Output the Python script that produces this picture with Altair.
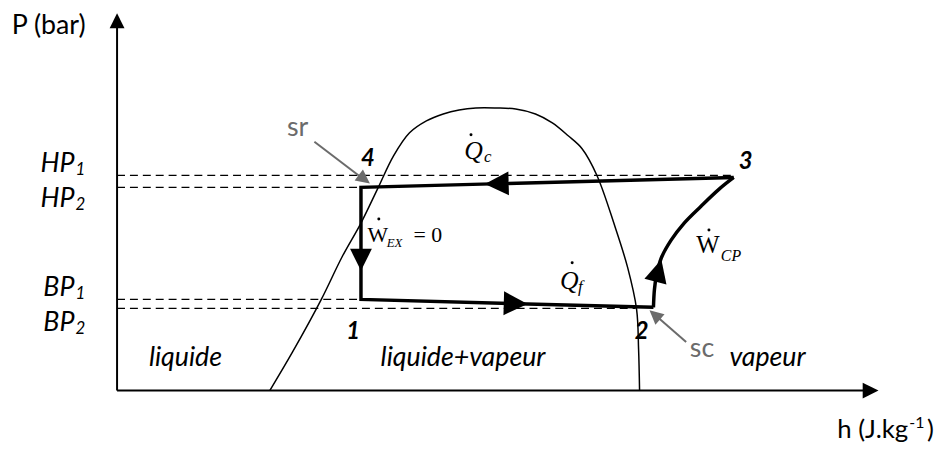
import altair as alt
import pandas as pd

# ---------------- data (enthalpy h and pressure P in arbitrary units, 0-100) ----------------
# saturation dome (liquid line -> critical point -> vapour line)
dome_h = [20.03, 23.02, 26.79, 29.52, 31.99, 34.20, 36.28, 38.36, 40.57, 42.78, 44.86, 47.07, 49.67,
          52.28, 54.88, 57.09, 59.17, 60.99, 62.94, 65.28, 66.97, 68.14, 68.40, 68.53]
dome_P = [0.0, 10.34, 24.40, 35.81, 44.83, 54.11, 62.86, 68.97, 72.15, 74.01, 75.07, 75.60, 75.60,
          75.33, 74.01, 71.62, 68.17, 64.72, 57.56, 44.03, 32.89, 21.75, 11.14, 0.0]

# cycle: condenser (3->4), expansion (4->1), evaporator (1->2)
cycle_h = [80.88, 31.99, 31.99, 70.35]
cycle_P = [57.03, 54.38, 24.40, 22.28]

# compression 2 -> 3
comp_h = [70.35, 70.48, 70.74, 71.39, 72.69, 74.38, 76.59, 78.93, 80.88]
comp_P = [22.28, 27.06, 30.77, 35.54, 40.32, 44.83, 49.34, 53.85, 57.03]

# pressure levels (dashed)
lvl_P = [57.56, 54.38, 24.40, 22.02]
lvl_end = [80.88, 31.99, 31.99, 68.00]
lvl_main = ["HP", "HP", "BP", "BP"]
lvl_main_P = [58.36, 49.07, 25.20, 15.92]
lvl_sub = ["1", "2", "1", "2"]
lvl_sub_P = [57.56, 48.28, 24.40, 15.12]

# axes
axis_h0 = [0.0, 0.0]
axis_h1 = [98.05, 0.0]
axis_P0 = [0.0, 0.0]
axis_P1 = [0.0, 97.61]

# grey pointers (sr, sc)
ptr_h0 = [25.88, 74.64]
ptr_P0 = [66.58, 13.00]
ptr_h1 = [32.38, 70.61]
ptr_P1 = [56.50, 20.16]

# arrow heads
arrow_h = [49.80, 31.99, 52.28, 71.00, 98.83, 0.0, 32.43, 70.52]
arrow_P = [55.35, 35.01, 23.28, 32.10, 0.0, 98.94, 56.55, 20.27]
arrow_ang = [178.5, 90, 1.6, 285, 0, 270, 36.9, 220.9]
arrow_len = [24, 22, 24, 23, 16, 15, 14, 14]
arrow_col = ["#000000"] * 6 + ["#6b6b6b"] * 2

# labels
region_txt = ["liquide", "liquide+vapeur", "vapeur"]
region_h = [8.97, 45.38, 85.31]
region_P = [6.63, 6.63, 6.63]

pt_txt = ["4", "3", "1", "2"]
pt_h = [32.90, 82.44, 30.95, 68.79]
pt_P = [60.21, 59.42, 13.79, 13.79]

note_txt = ["sr", "sc"]
note_h = [23.67, 76.72]
note_P = [68.17, 9.02]

heat_h = [46.75, 59.30]
heat_P = [62.07, 27.06]
heat_sub = ["c", "f"]
heat_sub_h = [48.11, 60.47]
heat_sub_P = [61.27, 26.26]

work_h = [34.20, 77.50]
work_P = [39.79, 36.87]
work_fs = [22, 25]
work_sub = ["EX", "CP"]
work_sub_h = [35.37, 79.19]
work_sub_P = [38.46, 34.75]
work_sub_fs = [13, 16]

dot_h = [46.42, 59.69, 34.33, 77.63]
dot_P = [68.43, 34.22, 45.89, 42.97]

# ---------------- chart ----------------
xs = alt.Scale(domain=[0, 100], range=[110, 879], nice=False, zero=False)
ys = alt.Scale(domain=[0, 100], range=[384, 7], nice=False, zero=False)


def XY(hf="h", pf="P"):
    return dict(x=alt.X(f"{hf}:Q", scale=xs, axis=None), y=alt.Y(f"{pf}:Q", scale=ys, axis=None))


LATO = "Lato"
SERIF = "Liberation Serif"

dome = alt.Chart(pd.DataFrame({"h": dome_h, "P": dome_P, "i": range(len(dome_h))})).mark_line(
    color="black", strokeWidth=1.5, interpolate="catmull-rom"
).encode(**XY(), order="i:Q")

levels = alt.Chart(pd.DataFrame({"h0": [0.0] * 4, "h1": lvl_end, "P": lvl_P})).mark_rule(
    color="black", strokeWidth=1.3, strokeDash=[8, 5]
).encode(x=alt.X("h0:Q", scale=xs, axis=None), x2="h1:Q", y=alt.Y("P:Q", scale=ys, axis=None))

cycle = alt.Chart(pd.DataFrame({"h": cycle_h, "P": cycle_P, "i": range(4)})).mark_line(
    color="black", strokeWidth=3.5, strokeJoin="miter"
).encode(**XY(), order="i:Q")

comp = alt.Chart(pd.DataFrame({"h": comp_h, "P": comp_P, "i": range(len(comp_h))})).mark_line(
    color="black", strokeWidth=3.5, interpolate="catmull-rom"
).encode(**XY(), order="i:Q")

axes = alt.Chart(pd.DataFrame({"h0": axis_h0, "h1": axis_h1, "P0": axis_P0, "P1": axis_P1})).mark_rule(
    color="black", strokeWidth=2
).encode(x=alt.X("h0:Q", scale=xs, axis=None), x2="h1:Q",
         y=alt.Y("P0:Q", scale=ys, axis=None), y2="P1:Q")

pointers = alt.Chart(pd.DataFrame({"h0": ptr_h0, "h1": ptr_h1, "P0": ptr_P0, "P1": ptr_P1})).mark_rule(
    color="#6b6b6b", strokeWidth=2
).encode(x=alt.X("h0:Q", scale=xs, axis=None), x2="h1:Q",
         y=alt.Y("P0:Q", scale=ys, axis=None), y2="P1:Q")

arrows = alt.Chart(pd.DataFrame({
    "h": arrow_h, "P": arrow_P, "a": arrow_ang,
    "s": [l * l for l in arrow_len], "c": arrow_col,
})).mark_point(shape="M1,0L-1,-1L-1,1Z", filled=True, opacity=1, strokeWidth=0).encode(
    **XY(), angle=alt.Angle("a:Q", scale=None), size=alt.Size("s:Q", scale=None),
    color=alt.Color("c:N", scale=None)
)


def txt(df, **mk):
    return alt.Chart(df).mark_text(**mk).encode(**XY(), text="t:N")


regions = txt(pd.DataFrame({"t": region_txt, "h": region_h, "P": region_P}),
              font=LATO, fontSize=27, fontStyle="italic", align="center", baseline="alphabetic")

lvl_lab = txt(pd.DataFrame({"t": lvl_main, "h": [-5.59] * 4, "P": lvl_main_P}),
              font=LATO, fontSize=27, fontStyle="italic", align="right", baseline="alphabetic")
lvl_sub_lab = txt(pd.DataFrame({"t": lvl_sub, "h": [-5.46] * 4, "P": lvl_sub_P}),
                  font=LATO, fontSize=17, fontStyle="italic", align="left", baseline="alphabetic")

pts = txt(pd.DataFrame({"t": pt_txt, "h": pt_h, "P": pt_P}),
          font=LATO, fontSize=24, fontStyle="italic", fontWeight="bold", align="center",
          baseline="alphabetic")

notes = txt(pd.DataFrame({"t": note_txt, "h": note_h, "P": note_P}),
            font=LATO, fontSize=27, color="#6b6b6b", align="center", baseline="alphabetic")

ytitle = txt(pd.DataFrame({"t": ["P (bar)"], "h": [-8.97], "P": [95.49]}),
             font=LATO, fontSize=27, align="center", baseline="alphabetic")
xtitle_a = txt(pd.DataFrame({"t": ["h (J.kg"], "h": [103.77], "P": [-12.73]}),
               font=LATO, fontSize=26, align="right", baseline="alphabetic")
xtitle_b = txt(pd.DataFrame({"t": ["-1"], "h": [103.90], "P": [-10.08]}),
               font=LATO, fontSize=16, align="left", baseline="alphabetic")
xtitle_c = txt(pd.DataFrame({"t": [")"], "h": [106.24], "P": [-12.73]}),
               font=LATO, fontSize=26, align="left", baseline="alphabetic")

heat = txt(pd.DataFrame({"t": ["Q", "Q"], "h": heat_h, "P": heat_P}),
           font=SERIF, fontSize=26, fontStyle="italic", align="center", baseline="alphabetic")
heat_s = txt(pd.DataFrame({"t": heat_sub, "h": heat_sub_h, "P": heat_sub_P}),
             font=SERIF, fontSize=17, fontStyle="italic", align="left", baseline="alphabetic")

work = alt.Chart(pd.DataFrame({"t": ["W", "W"], "h": work_h, "P": work_P, "fs": work_fs})).mark_text(
    font=SERIF, align="center", baseline="alphabetic"
).encode(**XY(), text="t:N", size=alt.Size("fs:Q", scale=None))
work_s = alt.Chart(pd.DataFrame({"t": work_sub, "h": work_sub_h, "P": work_sub_P, "fs": work_sub_fs})).mark_text(
    font=SERIF, fontStyle="italic", align="left", baseline="alphabetic"
).encode(**XY(), text="t:N", size=alt.Size("fs:Q", scale=None))
eq0 = txt(pd.DataFrame({"t": ["= 0"], "h": [38.88], "P": [39.79]}),
          font=SERIF, fontSize=22, align="left", baseline="alphabetic")

dots = alt.Chart(pd.DataFrame({"h": dot_h, "P": dot_P})).mark_circle(
    size=9, color="black", opacity=1
).encode(**XY())

chart = alt.layer(
    levels, dome, axes, cycle, comp, pointers, arrows,
    regions, lvl_lab, lvl_sub_lab, pts, notes, ytitle, xtitle_a, xtitle_b, xtitle_c,
    heat, heat_s, work, work_s, eq0, dots,
).properties(
    width=939, height=442, autosize="none", padding=0
).configure_view(stroke=None)

chart.save("out.html", embed_options={"renderer": "svg", "actions": False})
